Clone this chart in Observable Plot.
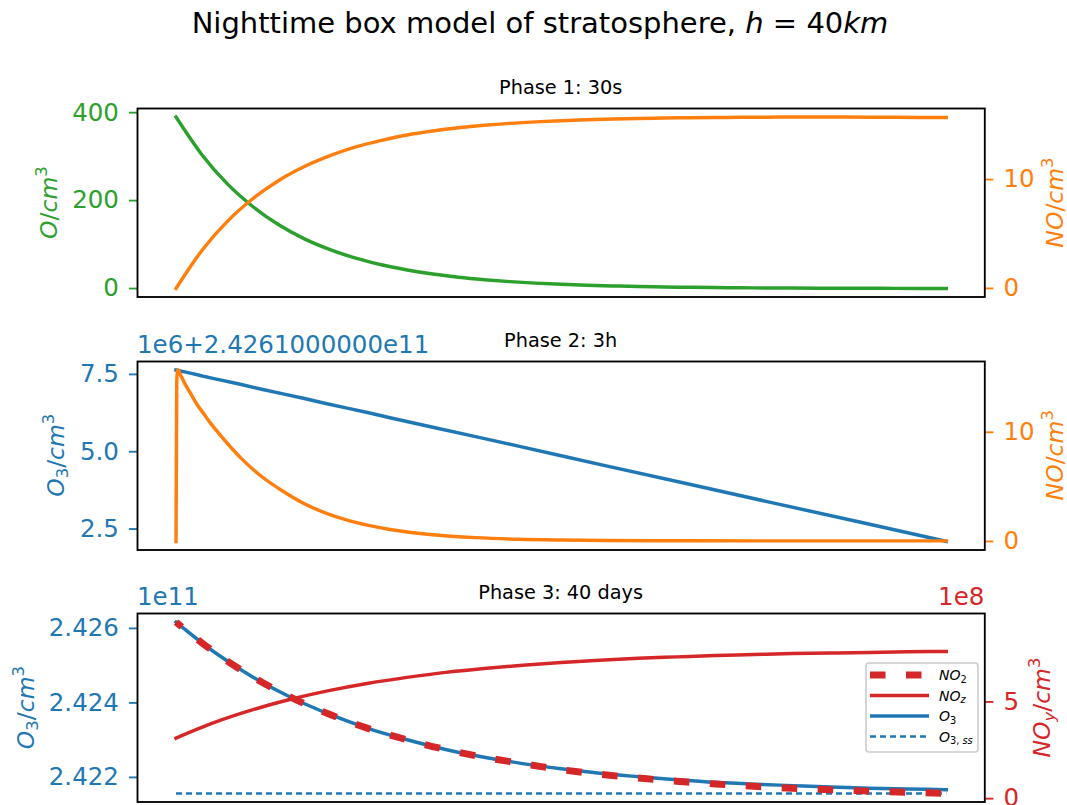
<!DOCTYPE html>
<html>
<head>
<meta charset="utf-8">
<script src="https://cdn.jsdelivr.net/npm/d3@7"></script>
<script src="https://cdn.jsdelivr.net/npm/@observablehq/plot@0.6"></script>
<style>
  html, body { margin: 0; padding: 0; background: #fff; overflow: hidden; }
  #fig { position: relative; width: 1067px; height: 805px; font-family: "DejaVu Sans", sans-serif; }
  #fig svg { position: absolute; left: 0; overflow: visible; }
</style>
</head>
<body>
<div id="fig"></div>
<script>
// ---------- Phase 1: first 30 s (seconds) ----------
const phase1Time = [0,1,2,3,4,5,6,7,8,9,10,11,12,13,14,15,16,17,18,19,20,21,22,23,24,25,26,27,28,29,30];
const phase1O    = [390,305,238,186,145,113,88.5,69,54,42.3,33,25.8,20.2,15.7,12.3,9.6,7.5,5.9,4.6,3.6,2.8,2.2,1.7,1.35,1.05,0.8,0.65,0.5,0.4,0.3,0.25];
const phase1NO   = [0,3.46,6.16,8.26,9.92,11.2,12.2,13.0,13.6,14.1,14.46,14.75,14.98,15.16,15.30,15.41,15.49,15.56,15.61,15.65,15.68,15.70,15.72,15.73,15.74,15.74,15.74,15.73,15.72,15.71,15.70];

// ---------- Phase 2: 3 h (seconds); O3 stored as (O3 - 2.4261e11) / 1e6 ----------
const phase2Time = [0,10,20,30,60,120,200,300,400,500,600,900,1200,1500,1800,2100,2400,2700,3000,3600,4200,4800,5400,6000,7200,8400,9600,10800];
const phase2O3   = [7.64,7.64,7.63,7.63,7.61,7.58,7.54,7.49,7.43,7.38,7.33,7.18,7.02,6.87,6.72,6.56,6.41,6.26,6.10,5.79,5.49,5.18,4.87,4.56,3.95,3.33,2.72,2.10];
const phase2NO   = [0,14.46,15.68,15.70,15.3,14.5,13.6,12.5,11.6,10.7,9.9,7.7,5.95,4.6,3.45,2.6,1.95,1.47,1.1,0.62,0.35,0.2,0.13,0.09,0.06,0.05,0.05,0.05];

// ---------- Phase 3: 40 days; O3 in 1e11 /cm3, NO2 and NOz in 1e8 /cm3 ----------
const phase3Days = [0,2,4,6,8,10,12,14,16,18,20,22,24,26,28,30,32,34,36,38,40];
const phase3O3   = [2.42617,2.42536,2.42469,2.42414,2.42369,2.42331,2.42301,2.42275,2.42254,2.42237,2.42223,2.42211,2.42202,2.42194,2.42187,2.42182,2.42178,2.42174,2.42171,2.42169,2.42167];
const phase3O3ss = [2.42157,2.42157,2.42157,2.42157,2.42157,2.42157,2.42157,2.42157,2.42157,2.42157,2.42157,2.42157,2.42157,2.42157,2.42157,2.42157,2.42157,2.42157,2.42157,2.42157,2.42157];
const phase3NO2  = [9.13,7.57,6.28,5.22,4.35,3.62,3.04,2.54,2.14,1.81,1.50,1.26,1.07,0.90,0.76,0.64,0.54,0.46,0.39,0.33,0.27];
const phase3NOz  = [3.13,3.94,4.60,5.15,5.60,5.97,6.27,6.53,6.73,6.90,7.04,7.16,7.26,7.33,7.40,7.45,7.50,7.53,7.56,7.59,7.61];

// ---------- ticks and labels ----------
const ticks1L = [0, 200, 400],            labels1L = ["0", "200", "400"];
const ticks1R = [0, 10],                  labels1R = ["0", "10"];
const ticks2L = [2.5, 5.0, 7.5],          labels2L = ["2.5", "5.0", "7.5"];
const ticks2R = [0, 10],                  labels2R = ["0", "10"];
const ticks3L = [2.422, 2.424, 2.426],    labels3L = ["2.422", "2.424", "2.426"];
const ticks3R = [0, 5],                   labels3R = ["0", "5"];
const phaseTitles = ["Phase 1: 30s", "Phase 2: 3h", "Phase 3: 40 days"];
const phaseSpans = [[0, 30], [0, 10800], [0, 40]];

// ---------- layout ----------
const fig = document.getElementById("fig");
const W = 1067, H = 805;
const FL = 137, FR = 984.3, FH = 188.5;
const PAD_T = 60, PAD_B = 8;
const tops = [108.3, 361, 613.3];
const GREEN = "#2ca02c", ORANGE = "#ff7f0e", BLUE = "#1f77b4", RED = "#d62728";
const LW = 3.47, SPINE = 1.85, TICK_FS = 24.5;

// autoscale with 5% margins on each side
function padded(...arrays) {
  const all = arrays.flat();
  const lo = d3.min(all), hi = d3.max(all), r = hi - lo;
  return [lo - 0.05 * r, hi + 0.05 * r];
}

function axis(anchor, ticks, labels, color) {
  return Plot.axisY(ticks, {
    anchor, tickSize: 8.1, tickPadding: 10.5, strokeWidth: SPINE, color,
    fontSize: TICK_FS, label: null,
    tickFormat: d => labels[ticks.indexOf(d)]
  });
}

function layer(top, xDomain, yDomain, marks) {
  const svg = Plot.plot({
    width: W, height: PAD_T + FH + PAD_B,
    marginLeft: FL, marginRight: W - FR, marginTop: PAD_T, marginBottom: PAD_B,
    x: {domain: xDomain, axis: null},
    y: {domain: yDomain, axis: null},
    style: {background: "transparent", fontFamily: "'DejaVu Sans', sans-serif", fontSize: TICK_FS + "px", overflow: "visible"},
    marks
  });
  svg.style.top = (top - PAD_T) + "px";
  fig.appendChild(svg);
  return svg;
}

const solid = (x, y, stroke) => Plot.line(x, {x, y, stroke, strokeWidth: LW, curve: "monotone-x", strokeLinecap: "square"});

// Panel 1: O (left) and NO (right)
const x1 = padded(phaseSpans[0]);
layer(tops[0], x1, padded(phase1O), [
  solid(phase1Time, phase1O, GREEN),
  axis("left", ticks1L, labels1L, GREEN)
]);
layer(tops[0], x1, padded(phase1NO), [
  solid(phase1Time, phase1NO, ORANGE),
  axis("right", ticks1R, labels1R, ORANGE),
  Plot.frame({stroke: "black", strokeWidth: SPINE})
]);

// Panel 2: O3 (left) and NO (right)
const x2 = padded(phaseSpans[1]);
layer(tops[1], x2, padded(phase2O3), [
  Plot.line(phase2Time, {x: phase2Time, y: phase2O3, stroke: BLUE, strokeWidth: LW, strokeLinecap: "square"}),
  axis("left", ticks2L, labels2L, BLUE)
]);
layer(tops[1], x2, padded(phase2NO), [
  solid(phase2Time, phase2NO, ORANGE),
  axis("right", ticks2R, labels2R, ORANGE),
  Plot.frame({stroke: "black", strokeWidth: SPINE})
]);

// Panel 3: O3 and its steady state (left); NO2 and NOz (right)
const x3 = padded(phaseSpans[2]);
layer(tops[2], x3, padded(phase3O3, phase3O3ss), [
  solid(phase3Days, phase3O3, BLUE),
  Plot.line(phase3Days, {x: phase3Days, y: phase3O3ss, stroke: BLUE, strokeWidth: 2.4, strokeDasharray: "6,4", strokeLinecap: "butt"}),
  axis("left", ticks3L, labels3L, BLUE)
]);
layer(tops[2], x3, padded(phase3NO2, phase3NOz), [
  solid(phase3Days, phase3NOz, RED),
  Plot.line(phase3Days, {x: phase3Days, y: phase3NO2, stroke: RED, strokeWidth: 6.9, curve: "monotone-x",
    strokeDasharray: "15.5,20.5", strokeDashoffset: 8, strokeLinecap: "butt"}),
  axis("right", ticks3R, labels3R, RED),
  Plot.frame({stroke: "black", strokeWidth: SPINE})
]);

// ---------- text layer: titles, axis labels, offsets, legend ----------
const ov = d3.select(fig).append("svg")
  .attr("width", W).attr("height", H).style("top", "0px")
  .attr("font-family", "'DejaVu Sans', sans-serif");

// mathtext-like runs: italic letters, sub/superscripts
function rich(sel, segs, size) {
  let cur = 0;
  for (const s of segs) {
    const off = s.sub ? 0.2 * size : s.sup ? -0.42 * size : 0;
    const ts = sel.append("tspan").text(s.t).attr("dy", off - cur);
    cur = off;
    if (s.it) ts.attr("font-style", "italic");
    if (s.sub || s.sup) ts.attr("font-size", 0.7 * size);
  }
}

// figure title
const TITLE_FS = 29;
const title = ov.append("text").attr("x", 540).attr("y", 33)
  .attr("text-anchor", "middle").attr("font-size", TITLE_FS).attr("fill", "black");
rich(title, [{t: "Nighttime box model of stratosphere, "}, {t: "h", it: true}, {t: " = 40"}, {t: "km", it: true}], TITLE_FS);

// phase titles
const cx = (FL + FR) / 2;
phaseTitles.forEach((s, i) => {
  ov.append("text").attr("x", cx).attr("y", tops[i] - 13.9)
    .attr("text-anchor", "middle").attr("font-size", 19.3).attr("fill", "black").text(s);
});

// rotated axis labels
function vlabel(x, y, segs, color) {
  const t = ov.append("text").attr("transform", `translate(${x},${y}) rotate(-90)`)
    .attr("text-anchor", "middle").attr("font-size", 23.5).attr("fill", color);
  rich(t, segs, 23.5);
}
const mid = i => tops[i] + FH / 2;
const O_cm3   = [{t: "O", it: true}, {t: "/"}, {t: "cm", it: true}, {t: "3", sup: true}];
const NO_cm3  = [{t: "NO", it: true}, {t: "/"}, {t: "cm", it: true}, {t: "3", sup: true}];
const O3_cm3  = [{t: "O", it: true}, {t: "3", sub: true}, {t: "/"}, {t: "cm", it: true}, {t: "3", sup: true}];
const NOy_cm3 = [{t: "NO", it: true}, {t: "y", sub: true, it: true}, {t: "/"}, {t: "cm", it: true}, {t: "3", sup: true}];
vlabel(57, mid(0), O_cm3, GREEN);
vlabel(1063, mid(0), NO_cm3, ORANGE);
vlabel(63.5, mid(1), O3_cm3, BLUE);
vlabel(1063, mid(1), NO_cm3, ORANGE);
vlabel(33.5, mid(2), O3_cm3, BLUE);
vlabel(1050, mid(2), NOy_cm3, RED);

// scale offset texts
const OFF_FS = 24.5;
ov.append("text").attr("x", FL).attr("y", tops[1] - 8).attr("font-size", OFF_FS).attr("fill", BLUE).text("1e6+2.4261000000e11");
ov.append("text").attr("x", FL).attr("y", tops[2] - 8).attr("font-size", OFF_FS).attr("fill", BLUE).text("1e11");
ov.append("text").attr("x", FR).attr("y", tops[2] - 8).attr("text-anchor", "end").attr("font-size", OFF_FS).attr("fill", RED).text("1e8");

// legend (centre right of panel 3)
const legendLabels = [
  [{t: "NO", it: true}, {t: "2", sub: true}],
  [{t: "NO", it: true}, {t: "z", sub: true, it: true}],
  [{t: "O", it: true}, {t: "3", sub: true}],
  [{t: "O", it: true}, {t: "3,", sub: true}, {t: " ss", sub: true, it: true}]
];
const legendStyles = [
  {stroke: RED, width: 6.9, dash: "15.5,20.5"},
  {stroke: RED, width: LW, dash: null},
  {stroke: BLUE, width: LW, dash: null},
  {stroke: BLUE, width: 2.4, dash: "6,4"}
];
const LG = {x: 866, y: 663, w: 112, h: 89};
const lg = ov.append("g");
lg.append("rect").attr("x", LG.x).attr("y", LG.y).attr("width", LG.w).attr("height", LG.h).attr("rx", 3)
  .attr("fill", "white").attr("fill-opacity", 0.8).attr("stroke", "#cccccc").attr("stroke-width", 1.6);
legendLabels.forEach((segs, i) => {
  const y = LG.y + 12 + i * 20.5;
  const st = legendStyles[i];
  lg.append("line").attr("x1", LG.x + 4).attr("x2", LG.x + 63).attr("y1", y).attr("y2", y)
    .attr("stroke", st.stroke).attr("stroke-width", st.width).attr("stroke-dasharray", st.dash);
  const t = lg.append("text").attr("x", LG.x + 73).attr("y", y + 5).attr("font-size", 14).attr("fill", "black");
  rich(t, segs, 14);
});
</script>
</body>
</html>
